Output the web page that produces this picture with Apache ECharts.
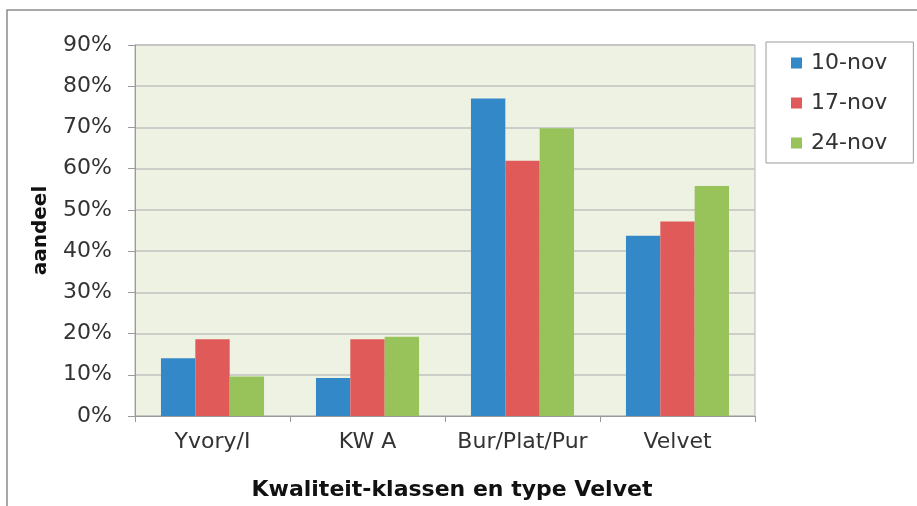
<!DOCTYPE html>
<html>
<head>
<meta charset="utf-8">
<script src="https://cdn.jsdelivr.net/npm/echarts@6/dist/echarts.min.js"></script>
<style>
  html, body { margin: 0; padding: 0; background: #fff; }
  #chart { width: 917px; height: 506px; }
</style>
</head>
<body>
<div id="chart"></div>
<script>
// data (percent)
const categories = ['Yvory/I', 'KW A', 'Bur/Plat/Pur', 'Velvet']
const nov10 = [14.0, 9.2, 77.0, 43.7]
const nov17 = [18.6, 18.6, 61.9, 47.2]
const nov24 = [9.6, 19.2, 69.8, 55.8]
const seriesNames = ['10-nov', '17-nov', '24-nov']
const seriesColors = ['#3388c8', '#e05a5a', '#98c35b']

const chart = echarts.init(document.getElementById('chart'))
const font = 'DejaVu Sans, Arial, sans-serif'
const textColor = '#333'

const option = {
  animation: false,
  textStyle: { fontFamily: font },
  graphic: [
    {
      type: 'rect',
      shape: { x: 7, y: 10, width: 930, height: 520 },
      style: { fill: 'none', stroke: '#8c8c8c', lineWidth: 1.5 },
      silent: true
    }
  ],
  legend: {
    orient: 'vertical',
    left: 766,
    top: 42,
    padding: [10, 26, 9, 25],
    itemGap: 18,
    itemWidth: 11,
    itemHeight: 11,
    icon: 'rect',
    borderColor: '#9a9a9a',
    borderWidth: 1,
    textStyle: { fontSize: 22, color: textColor, fontFamily: font, padding: [0, 0, 0, 4] },
    data: seriesNames
  },
  grid: {
    left: 135,
    right: 162,
    top: 45,
    bottom: 86,
    show: true,
    backgroundColor: '#eef2e3',
    borderColor: '#b5b5b5',
    borderWidth: 1
  },
  xAxis: {
    type: 'category',
    data: categories,
    name: 'Kwaliteit-klassen en type Velvet',
    nameLocation: 'middle',
    nameGap: 63,
    nameTextStyle: { fontSize: 22, fontWeight: 'bold', color: '#111', padding: [0, 0, 0, 14] },
    axisLine: { lineStyle: { color: '#9a9a9a' } },
    axisTick: { show: true, length: 6, lineStyle: { color: '#9a9a9a' } },
    axisLabel: { fontSize: 22, color: textColor, margin: 15, interval: 0 }
  },
  yAxis: {
    type: 'value',
    min: 0,
    max: 90,
    interval: 10,
    name: 'aandeel',
    nameLocation: 'middle',
    nameGap: 84,
    nameTextStyle: { fontSize: 20, fontWeight: 'bold', color: '#111' },
    axisLine: { show: true, lineStyle: { color: '#9a9a9a' } },
    axisTick: { show: true, length: 7, lineStyle: { color: '#9a9a9a' } },
    axisLabel: { fontSize: 22, color: textColor, margin: 23, formatter: '{value}%' },
    splitLine: { lineStyle: { color: '#c2c2c2', width: 1.5 } }
  },
  series: [nov10, nov17, nov24].map((values, i) => ({
    name: seriesNames[i],
    type: 'bar',
    data: values,
    barGap: '0%',
    barCategoryGap: '33.5%',
    itemStyle: { color: seriesColors[i] }
  }))
}

chart.setOption(option)
</script>
</body>
</html>
